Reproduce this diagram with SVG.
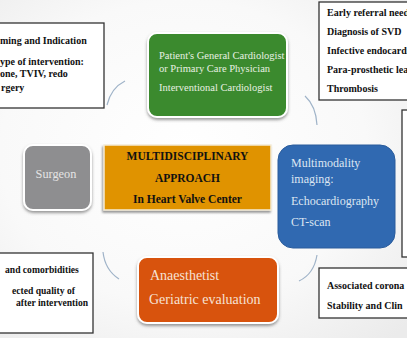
<svg xmlns="http://www.w3.org/2000/svg" width="407" height="338" viewBox="0 0 407 338">
<defs>
<radialGradient id="bg" cx="0.45" cy="0.45" r="0.75">
<stop offset="0" stop-color="#ffffff"/>
<stop offset="0.6" stop-color="#f9f9f9"/>
<stop offset="1" stop-color="#ebebeb"/>
</radialGradient>
<filter id="sh" x="-10%" y="-10%" width="120%" height="130%">
<feDropShadow dx="0" dy="2" stdDeviation="1.5" flood-color="#555" flood-opacity="0.6"/>
</filter>
<filter id="shc" x="-10%" y="-10%" width="120%" height="130%">
<feDropShadow dx="-1" dy="2" stdDeviation="1" flood-color="#666" flood-opacity="0.7"/>
</filter>
</defs>
<style>
.info{fill:#ffffff;stroke:#333;stroke-width:1.3}
.it{font-family:"Liberation Serif",serif;font-weight:bold;font-size:10px;fill:#111}
.ct{font-family:"Liberation Serif",serif;font-size:10.5px}
.arc{fill:none;stroke:#9fb3c8;stroke-width:1.2}
.card{stroke:#fff;stroke-width:2;filter:url(#sh)}
</style>
<rect width="407" height="338" fill="url(#bg)"/>

<g id="connectors">
<path class="arc" d="M107,105 Q111,88 125,81"/>
<path class="arc" d="M305,96 Q316,106 317,125"/>
<path class="arc" d="M103,252 Q105,270 119,279"/>
<path class="arc" d="M317,255 Q314,274 299,281"/>
</g>

<g id="timing">
<rect class="info" x="-5" y="23" width="109" height="85"/>
<text class="it" x="0" y="44">ming and Indication</text>
<text class="it" x="0" y="65">ype of intervention:</text>
<text class="it" x="0" y="77">one, TVIV, redo</text>
<text class="it" x="1" y="91">rgery</text>
</g>

<g id="referral">
<rect class="info" x="319" y="2" width="95" height="98"/>
<text class="it" x="327" y="16">Early referral neede</text>
<text class="it" x="327" y="35">Diagnosis of SVD</text>
<text class="it" x="327" y="54">Infective endocardi</text>
<text class="it" x="327" y="73">Para-prosthetic leal</text>
<text class="it" x="327" y="92">Thrombosis</text>
</g>

<g id="right-box">
<rect class="info" x="402" y="110" width="12" height="147"/>
</g>

<g id="comorbidities">
<rect class="info" x="-5" y="253" width="98" height="80"/>
<text class="it" x="5" y="273" style="font-size:9.6px">and comorbidities</text>
<text class="it" x="12" y="294" style="font-size:9.6px">ected quality of</text>
<text class="it" x="16" y="306" style="font-size:9.6px">after intervention</text>
</g>

<g id="coronary">
<rect class="info" x="319" y="268" width="95" height="50"/>
<text class="it" x="327" y="289">Associated corona</text>
<text class="it" x="327" y="309">Stability and Clin</text>
</g>

<g id="cardiologist">
<rect class="card" x="148" y="33" width="139" height="84" rx="9" fill="#3b8a2f"/>
<text class="ct" x="159" y="59" fill="#e8f0e2">Patient's General Cardiologist</text>
<text class="ct" x="159" y="72" fill="#e8f0e2">or Primary Care Physician</text>
<text class="ct" x="159" y="91" fill="#e8f0e2">Interventional Cardiologist</text>
</g>

<g id="surgeon">
<rect class="card" x="24" y="145" width="67" height="65" rx="9" fill="#8e8e90"/>
<text class="ct" x="56" y="178" text-anchor="middle" style="font-size:12.3px" fill="#e4e4e4">Surgeon</text>
</g>

<g id="center">
<rect x="104" y="145" width="167" height="65" fill="#e09300" stroke="#f4ecd8" stroke-width="1.5" filter="url(#shc)"/>
<text class="it" x="187.5" y="160" text-anchor="middle" style="font-size:11.5px">MULTIDISCIPLINARY</text>
<text class="it" x="187.5" y="182" text-anchor="middle" style="font-size:11.5px">APPROACH</text>
<text class="it" x="187.5" y="203" text-anchor="middle" style="font-size:11.5px">In Heart Valve Center</text>
</g>

<g id="imaging">
<rect x="278" y="145" width="117" height="103" rx="15" fill="#3069b1" stroke="#2a5c9c" stroke-width="1"/>
<text class="ct" x="291" y="167" style="font-size:12px" fill="#dde6f2">Multimodality</text>
<text class="ct" x="291" y="183" style="font-size:12px" fill="#dde6f2">imaging:</text>
<text class="ct" x="291" y="205" style="font-size:12px" fill="#dde6f2">Echocardiography</text>
<text class="ct" x="291" y="226" style="font-size:12px" fill="#dde6f2">CT-scan</text>
</g>

<g id="anaesthetist">
<rect class="card" x="138" y="257" width="140" height="66" rx="9" fill="#d8520b"/>
<text class="ct" x="150" y="280" style="font-size:14px" fill="#f6e2d4">Anaesthetist</text>
<text class="ct" x="149" y="304" style="font-size:14px" fill="#f6e2d4">Geriatric evaluation</text>
</g>
</svg>
